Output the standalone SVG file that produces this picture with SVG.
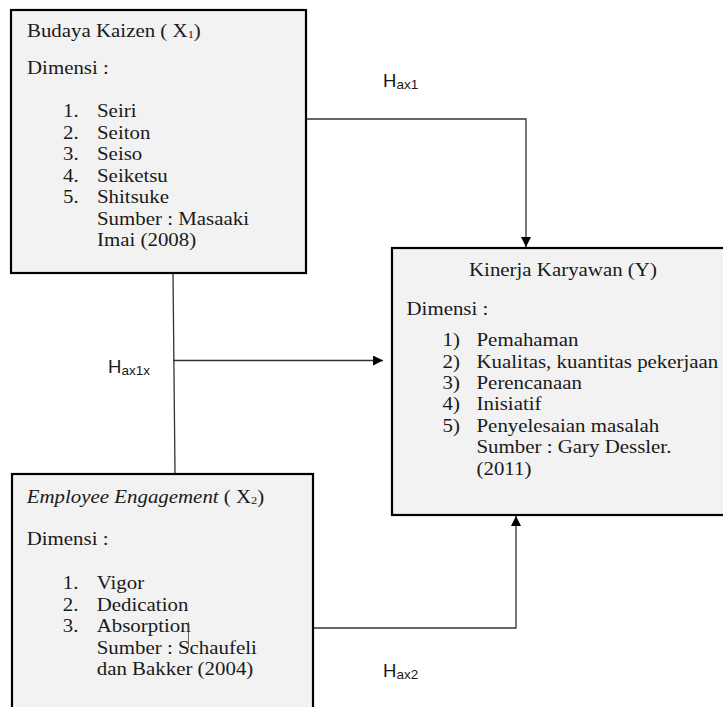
<svg xmlns="http://www.w3.org/2000/svg" width="723" height="707" viewBox="0 0 723 707">
<style>
.box{fill:#f2f2f2;stroke:#000;stroke-width:2.2}
.t{font-family:"Liberation Serif","Times New Roman",serif;font-size:18.5px;fill:#1a1a1a}
.s{font-family:"Liberation Sans",Arial,sans-serif;fill:#1a1a1a}
.c{fill:none;stroke:#333;stroke-width:1.3}
.sub{font-size:11px}
</style>
<defs>
<marker id="ah" viewBox="0 0 10 10" refX="10" refY="5" markerWidth="10" markerHeight="10" markerUnits="userSpaceOnUse" orient="auto">
<path d="M0,0 L10,5 L0,10 Z" fill="#000"/>
</marker>
</defs>
<rect width="723" height="707" fill="#fff"/>

<g id="connectors">
<polyline class="c" points="306,119 526,119 526,247" marker-end="url(#ah)"/>
<line class="c" x1="173" y1="273" x2="175" y2="474"/>
<line class="c" x1="173" y1="360.5" x2="383" y2="360.5" marker-end="url(#ah)"/>
<polyline class="c" points="313,628 516,628 516,516" marker-end="url(#ah)"/>
<text class="s" x="383" y="87" font-size="18.5">H<tspan font-size="13.5" dy="1.5">ax1</tspan></text>
<text class="s" x="108" y="373" font-size="18.5">H<tspan font-size="13.5" dy="1.5">ax1x</tspan></text>
<text class="s" x="383" y="677" font-size="18.5">H<tspan font-size="13.5" dy="1.5">ax2</tspan></text>
</g>

<g id="node-x1">
<rect class="box" x="11" y="10" width="295" height="263"/>
<text class="t" transform="translate(27,37) scale(1.13,1)">Budaya Kaizen ( X<tspan class="sub" dy="1">1</tspan><tspan dy="-1">)</tspan></text>
<text class="t" transform="translate(27,74) scale(1.13,1)">Dimensi :</text>
<text class="t" transform="translate(63,117.3) scale(1.13,1)">1.</text>
<text class="t" transform="translate(97,117.3) scale(1.13,1)">Seiri</text>
<text class="t" transform="translate(63,138.8) scale(1.13,1)">2.</text>
<text class="t" transform="translate(97,138.8) scale(1.13,1)">Seiton</text>
<text class="t" transform="translate(63,160.2) scale(1.13,1)">3.</text>
<text class="t" transform="translate(97,160.2) scale(1.13,1)">Seiso</text>
<text class="t" transform="translate(63,181.7) scale(1.13,1)">4.</text>
<text class="t" transform="translate(97,181.7) scale(1.13,1)">Seiketsu</text>
<text class="t" transform="translate(63,203.1) scale(1.13,1)">5.</text>
<text class="t" transform="translate(97,203.1) scale(1.13,1)">Shitsuke</text>
<text class="t" transform="translate(97,224.6) scale(1.13,1)">Sumber : Masaaki</text>
<text class="t" transform="translate(97,246) scale(1.13,1)">Imai (2008)</text>
</g>

<g id="node-y">
<rect class="box" x="392" y="248" width="340" height="267"/>
<text class="t" transform="translate(469,276) scale(1.13,1)">Kinerja Karyawan (Y)</text>
<text class="t" transform="translate(406.5,315) scale(1.13,1)">Dimensi :</text>
<text class="t" transform="translate(442.5,346) scale(1.13,1)">1)</text>
<text class="t" transform="translate(476.5,346) scale(1.13,1)">Pemahaman</text>
<text class="t" transform="translate(442.5,367.6) scale(1.13,1)">2)</text>
<text class="t" transform="translate(476.5,367.6) scale(1.13,1)">Kualitas, kuantitas pekerjaan</text>
<text class="t" transform="translate(442.5,389) scale(1.13,1)">3)</text>
<text class="t" transform="translate(476.5,389) scale(1.13,1)">Perencanaan</text>
<text class="t" transform="translate(442.5,410.4) scale(1.13,1)">4)</text>
<text class="t" transform="translate(476.5,410.4) scale(1.13,1)">Inisiatif</text>
<text class="t" transform="translate(442.5,431.8) scale(1.13,1)">5)</text>
<text class="t" transform="translate(476.5,431.8) scale(1.13,1)">Penyelesaian masalah</text>
<text class="t" transform="translate(476.5,453.3) scale(1.13,1)">Sumber : Gary Dessler.</text>
<text class="t" transform="translate(476.5,475) scale(1.13,1)">(2011)</text>
</g>

<g id="node-x2">
<rect class="box" x="12" y="474" width="301" height="250"/>
<text class="t" transform="translate(26.7,503.3) scale(1.13,1)"><tspan font-style="italic">Employee Engagement</tspan> ( X<tspan class="sub" dy="1">2</tspan><tspan dy="-1">)</tspan></text>
<text class="t" transform="translate(26.7,545) scale(1.13,1)">Dimensi :</text>
<text class="t" transform="translate(62.7,589.3) scale(1.13,1)">1.</text>
<text class="t" transform="translate(96.7,589.3) scale(1.13,1)">Vigor</text>
<text class="t" transform="translate(62.7,610.8) scale(1.13,1)">2.</text>
<text class="t" transform="translate(96.7,610.8) scale(1.13,1)">Dedication</text>
<text class="t" transform="translate(62.7,632.3) scale(1.13,1)">3.</text>
<text class="t" transform="translate(96.7,632.3) scale(1.13,1)">Absorption</text>
<line x1="188.5" y1="622" x2="188.5" y2="648" stroke="#444" stroke-width="0.8"/>
<text class="t" transform="translate(96.7,653.6) scale(1.13,1)">Sumber : Schaufeli</text>
<text class="t" transform="translate(96.7,675) scale(1.13,1)">dan Bakker (2004)</text>
</g>
</svg>
